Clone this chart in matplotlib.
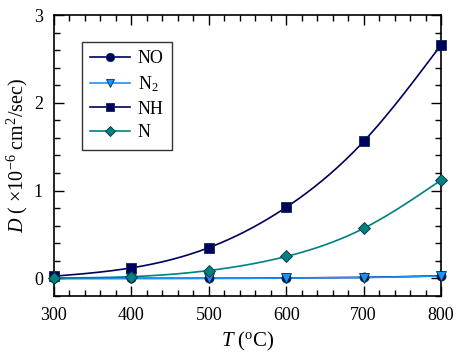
import numpy as np
import matplotlib
matplotlib.use("Agg")
import matplotlib.pyplot as plt
from matplotlib.ticker import MultipleLocator

plt.rcParams['font.family'] = ['Liberation Serif', 'DejaVu Serif']
plt.rcParams['mathtext.fontset'] = 'custom'
plt.rcParams['mathtext.rm'] = 'Liberation Serif'
plt.rcParams['mathtext.it'] = 'Liberation Serif:italic'

T = [300, 400, 500, 600, 700, 800]
NO = [0.0, 0.0, 0.0, 0.005, 0.012, 0.03]
N2 = [0.0, 0.0, 0.0, 0.004, 0.01, 0.027]
NH = [0.025, 0.12, 0.35, 0.81, 1.56, 2.66]
N = [0.005, 0.02, 0.09, 0.25, 0.57, 1.12]


def spline(x, y, n=200):
    # natural cubic spline, only for drawing the smooth line
    x = np.asarray(x, float)
    y = np.asarray(y, float)
    k = len(x)
    h = np.diff(x)
    A = np.zeros((k, k))
    b = np.zeros(k)
    A[0, 0] = A[-1, -1] = 1
    for i in range(1, k - 1):
        A[i, i - 1] = h[i - 1]
        A[i, i] = 2 * (h[i - 1] + h[i])
        A[i, i + 1] = h[i]
        b[i] = 6 * ((y[i + 1] - y[i]) / h[i] - (y[i] - y[i - 1]) / h[i - 1])
    M = np.linalg.solve(A, b)
    xs = np.linspace(x[0], x[-1], n)
    j = np.clip(np.searchsorted(x, xs) - 1, 0, k - 2)
    t0 = x[j + 1] - xs
    t1 = xs - x[j]
    hj = h[j]
    ys = (M[j] * t0 ** 3 + M[j + 1] * t1 ** 3) / (6 * hj) \
        + (y[j] / hj - M[j] * hj / 6) * t0 + (y[j + 1] / hj - M[j + 1] * hj / 6) * t1
    return xs, ys


fig = plt.figure(figsize=(4.63, 3.53), dpi=100)
ax = fig.add_axes([0.1166, 0.1615, 0.836, 0.796])

series = [
    ("NO", NO, "#00005e", "o", "#00005e"),
    ("N$_2$", N2, "#1e8fff", "v", "#1e8fff"),
    ("NH", NH, "#00005e", "s", "#00005e"),
    ("N", N, "#008080", "D", "#008080"),
]
for name, vals, col, mk, fc in series:
    xs, ys = spline(T, vals)
    ms = 6.5 if mk != 'D' else 6
    ax.plot(xs, ys, color=col, lw=1.2, zorder=2)
    ax.plot(T, vals, ls='none', marker=mk, ms=ms,
            mfc=fc, mec='#003040', mew=0.6, zorder=3, clip_on=False)
    ax.plot([], [], color=col, lw=1.2, marker=mk, ms=ms - 0.5,
            mfc=fc, mec='#003040', mew=0.6, label=name)

ax.set_xlim(300, 800)
ax.set_ylim(-0.2, 3)
ax.xaxis.set_major_locator(MultipleLocator(100))
ax.xaxis.set_minor_locator(MultipleLocator(20))
ax.yaxis.set_major_locator(MultipleLocator(1))
ax.yaxis.set_minor_locator(MultipleLocator(0.2))
ax.tick_params(which='both', direction='in', top=True, right=True, labelsize=13, pad=8)
ax.tick_params(which='major', length=7, width=1)
ax.tick_params(which='minor', length=4.5, width=1)
for s in ax.spines.values():
    s.set_linewidth(1.2)

ax.set_xlabel(r"$T$ ($^{\rm o}$C)", fontsize=15, labelpad=4)
ax.set_ylabel(r"$D$ ( $\times$10$^{-6}$ cm$^2$/sec)", fontsize=14.5, labelpad=3)

leg = ax.legend(loc='upper left', bbox_to_anchor=(0.072, 0.904), fontsize=13,
                frameon=True, fancybox=False, edgecolor='black', handlelength=2.2,
                handletextpad=0.45, borderpad=0.45, labelspacing=0.38, borderaxespad=0)
leg.get_frame().set_linewidth(1.0)

fig.savefig("out.png", dpi=100)
